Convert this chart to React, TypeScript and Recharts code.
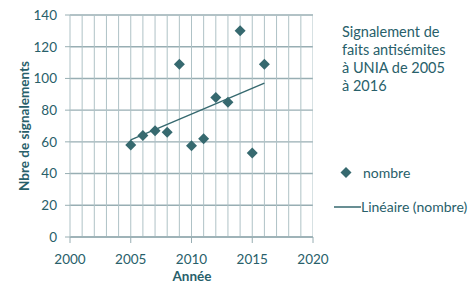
import React from "react";
import { ScatterChart, Scatter, XAxis, YAxis, CartesianGrid, ReferenceLine } from "recharts";

const years = [2005, 2006, 2007, 2008, 2009, 2010, 2011, 2012, 2013, 2014, 2015, 2016];
const nombre = [58, 64, 67, 66, 109, 57.5, 62, 88, 85, 130, 53, 109];
const trendYears = [2005, 2016];
const trendValues = [61.3, 97.1];
const xTicks = [2000, 2005, 2010, 2015, 2020];
const yTicks = [0, 20, 40, 60, 80, 100, 120, 140];
const gridYears = [2001, 2002, 2003, 2004, 2005, 2006, 2007, 2008, 2009, 2010, 2011, 2012, 2013, 2014, 2015, 2016, 2017, 2018, 2019, 2020];

const points = years.map((x, i) => ({ x, y: nombre[i] }));
const trend = trendYears.map((x, i) => ({ x, y: trendValues[i] }));

const TEXT = "#28606a";
const MARK = "#36696f";
const GRID_H = "#98aeb3";
const GRID_V = "#afc2c6";
const FONT = "Lato, 'Open Sans', sans-serif";

const Diamond = (props: any) => {
  const { cx, cy } = props;
  if (cx == null || cy == null) return null;
  const r = 5.5;
  return <polygon points={`${cx},${cy - r} ${cx + r},${cy} ${cx},${cy + r} ${cx - r},${cy}`} fill={MARK} />;
};

const NoShape = () => null;

export default function App() {
  return (
    <div style={{ position: "absolute", left: 0, top: 0, width: 469, height: 284, background: "#fff", fontFamily: FONT }}>
      <ScatterChart width={469} height={284} margin={{ top: 15, right: 156, bottom: 17, left: 0 }}>
        <CartesianGrid vertical={false} stroke={GRID_H} strokeWidth={1.4} />
        {gridYears.map((g) => (
          <ReferenceLine key={g} x={g} stroke={GRID_V} strokeWidth={1} ifOverflow="hidden" />
        ))}
        <XAxis
          type="number"
          dataKey="x"
          domain={[2000, 2020]}
          ticks={xTicks}
          interval={0}
          height={30}
          tickSize={6}
          tickMargin={11}
          axisLine={{ stroke: GRID_H, strokeWidth: 1.4 }}
          tickLine={{ stroke: GRID_H }}
          tick={{ fill: TEXT, fontSize: 13.5, fontFamily: FONT }}
        />
        <YAxis
          type="number"
          dataKey="y"
          domain={[0, 140]}
          ticks={yTicks}
          interval={0}
          width={70}
          tickSize={5}
          tickMargin={8}
          axisLine={{ stroke: GRID_V }}
          tickLine={{ stroke: GRID_H }}
          tick={{ fill: TEXT, fontSize: 13.5, fontFamily: FONT }}
        />
        <Scatter data={trend} line={{ stroke: MARK, strokeWidth: 1.4 }} shape={NoShape} isAnimationActive={false} />
        <Scatter data={points} shape={Diamond} isAnimationActive={false} />
      </ScatterChart>

      <div style={{ position: "absolute", left: 24, top: 126, transform: "translate(-50%, -50%) rotate(-90deg)", whiteSpace: "nowrap", color: TEXT, fontWeight: 700, fontSize: 13.5 }}>
        Nbre de signalements
      </div>
      <div style={{ position: "absolute", left: 192, top: 276, transform: "translate(-50%, -50%)", whiteSpace: "nowrap", color: TEXT, fontWeight: 700, fontSize: 13.5 }}>
        Année
      </div>
      <div style={{ position: "absolute", left: 342, top: 23, color: TEXT, fontSize: 14.5, lineHeight: "18px", width: 130 }}>
        Signalement de<br />faits antisémites<br />à UNIA de 2005<br />à 2016
      </div>
      <svg style={{ position: "absolute", left: 330, top: 160 }} width={40} height={60}>
        <polygon points="16,7 21.5,12.5 16,18 10.5,12.5" fill={MARK} />
        <line x1={4} y1={47} x2={31} y2={47} stroke={MARK} strokeWidth={1.5} />
      </svg>
      <div style={{ position: "absolute", left: 363, top: 164, color: TEXT, fontSize: 14, lineHeight: "18px", whiteSpace: "nowrap" }}>
        nombre
      </div>
      <div style={{ position: "absolute", left: 361, top: 198, color: TEXT, fontSize: 14, lineHeight: "18px", whiteSpace: "nowrap" }}>
        Linéaire (nombre)
      </div>
    </div>
  );
}
